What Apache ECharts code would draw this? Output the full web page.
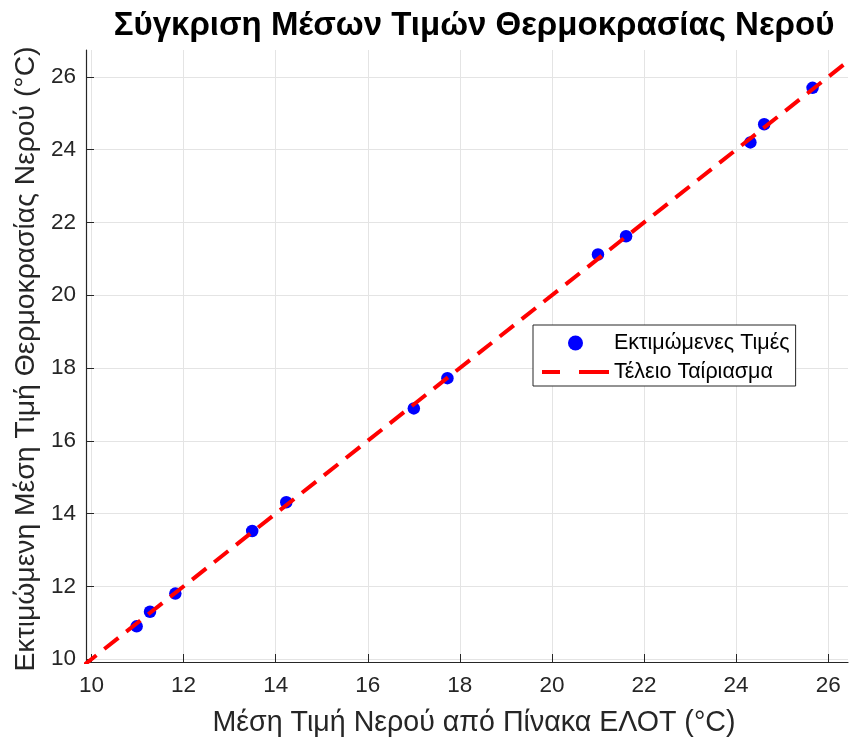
<!DOCTYPE html>
<html>
<head>
<meta charset="utf-8">
<script src="https://cdn.jsdelivr.net/npm/echarts@6/dist/echarts.min.js"></script>
<style>
html,body{margin:0;padding:0;background:#fff;}
#chart{width:849px;height:740px;}
</style>
</head>
<body>
<div id="chart"></div>
<script>
// ELOT table mean water temperature vs. estimated mean (°C)
const elotMean = [10.98, 11.27, 11.82, 13.49, 14.23, 17.0, 17.73, 21.0, 21.61, 24.31, 24.61, 25.66];
const estimatedMean = [10.9, 11.3, 11.8, 13.52, 14.31, 16.89, 17.72, 21.12, 21.62, 24.2, 24.7, 25.7];
// Perfect-match reference line y = x
const refLine = [9.8, 26.6];
// Tick positions shared by both axes
const tickValues = [10, 12, 14, 16, 18, 20, 22, 24, 26];

const seriesNames = ['Εκτιμώμενες Τιμές', 'Τέλειο Ταίριασμα'];
const titleText = 'Σύγκριση Μέσων Τιμών Θερμοκρασίας Νερού';
const xLabel = 'Μέση Τιμή Νερού από Πίνακα ΕΛΟΤ (°C)';
const yLabel = 'Εκτιμώμενη Μέση Τιμή Θερμοκρασίας Νερού (°C)';

const FONT = '"Liberation Sans", Arial, sans-serif';
const AXIS_COLOR = '#262626';

const chart = echarts.init(document.getElementById('chart'));

function makeAxis(extra) {
  return Object.assign({
    type: 'value',
    axisLine: { show: true, onZero: false, lineStyle: { color: AXIS_COLOR, width: 1.2 } },
    axisTick: { show: true, inside: true, length: 8, customValues: tickValues, lineStyle: { color: AXIS_COLOR } },
    splitLine: { show: true, lineStyle: { color: '#e4e4e4', width: 1 } },
    nameLocation: 'middle',
    nameMoveOverlap: false
  }, extra);
}

chart.setOption({
  backgroundColor: '#fff',
  animation: false,
  title: {
    text: titleText,
    left: 469, top: 4, textAlign: 'center',
    textStyle: { fontFamily: FONT, fontWeight: 'bold', fontSize: 33, color: '#000' }
  },
  grid: { left: 86, top: 50, right: 1, bottom: 78, containLabel: false, outerBoundsMode: 'none' },
  xAxis: makeAxis({
    min: 9.88, max: 26.43,
    name: xLabel, nameGap: 47,
    nameTextStyle: { color: AXIS_COLOR, fontFamily: FONT, fontSize: 28.6, padding: [0, 0, 0, 14] },
    axisLabel: { color: AXIS_COLOR, fontFamily: FONT, fontSize: 22.5, margin: 12, customValues: tickValues }
  }),
  yAxis: makeAxis({
    min: 9.92, max: 26.74,
    name: yLabel, nameGap: 46,
    nameTextStyle: { color: AXIS_COLOR, fontFamily: FONT, fontSize: 28.3, padding: [0, 6, 0, 0] },
    axisLabel: { color: AXIS_COLOR, fontFamily: FONT, fontSize: 22.5, margin: 10, customValues: tickValues }
  }),
  legend: {
    orient: 'vertical',
    left: 533, top: 325,
    padding: [7, 6, 3, 7],
    itemGap: 7,
    itemWidth: 67,
    itemHeight: 15,
    backgroundColor: '#fff',
    borderColor: AXIS_COLOR,
    borderWidth: 1,
    borderRadius: 0,
    textStyle: { fontFamily: FONT, fontSize: 21.5, color: '#000' },
    data: [
      { name: seriesNames[0], icon: 'circle' },
      {
        name: seriesNames[1],
        itemStyle: { color: 'rgba(0,0,0,0)', borderWidth: 0 },
        lineStyle: { color: '#ff0000', width: 4, type: [18, 19, 30, 0] }
      }
    ]
  },
  series: [
    {
      name: seriesNames[0],
      type: 'scatter',
      data: elotMean.map((x, i) => [x, estimatedMean[i]]),
      symbol: 'circle',
      symbolSize: 12.5,
      itemStyle: { color: '#0000ff', opacity: 1 },
      z: 3
    },
    {
      name: seriesNames[1],
      type: 'line',
      data: refLine.map(v => [v, v]),
      symbol: 'none',
      clip: true,
      lineStyle: { color: '#ff0000', width: 4, type: [18, 10] },
      itemStyle: { color: '#ff0000' },
      z: 4
    }
  ]
});
</script>
</body>
</html>
